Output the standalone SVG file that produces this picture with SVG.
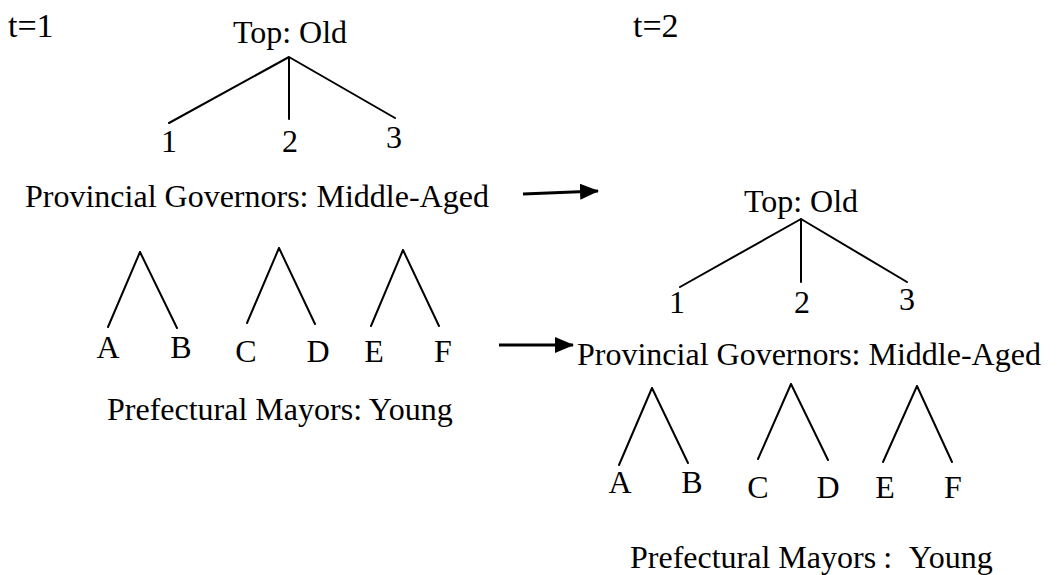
<svg xmlns="http://www.w3.org/2000/svg" width="1058" height="575" viewBox="0 0 1058 575">
<style>
text{font-family:"Liberation Serif","Times New Roman",serif;font-size:32px;fill:#000}
.t{font-size:34px}
.m{text-anchor:middle}
.e{stroke:#000;stroke-width:2;fill:none;stroke-linecap:round}
.a{stroke:#000;stroke-width:3;fill:none}
</style>
<defs>
<marker id="ah" markerUnits="userSpaceOnUse" markerWidth="20" markerHeight="18" refX="18" refY="8" orient="auto">
<path d="M0,0 L19,8 L0,16 Z" fill="#000"/>
</marker>
</defs>
<rect width="1058" height="575" fill="#fff"/>
<g id="label-t1"><text class="t" x="8" y="37">t=1</text></g>
<g id="label-t2"><text class="t" x="633" y="37">t=2</text></g>

<g id="left-top"><text class="m" x="290" y="43">Top: Old</text></g>
<g id="left-1"><text class="m" x="169" y="152">1</text></g>
<g id="left-2"><text class="m" x="290" y="152">2</text></g>
<g id="left-3"><text class="m" x="394" y="148">3</text></g>
<g id="left-governors"><text x="25" y="207">Provincial Governors: Middle-Aged</text></g>
<g id="left-A"><text class="m" x="108" y="358">A</text></g>
<g id="left-B"><text class="m" x="181" y="358">B</text></g>
<g id="left-C"><text class="m" x="246" y="362">C</text></g>
<g id="left-D"><text class="m" x="318" y="362">D</text></g>
<g id="left-E"><text class="m" x="374" y="362">E</text></g>
<g id="left-F"><text class="m" x="443" y="362">F</text></g>
<g id="left-mayors"><text x="107" y="420">Prefectural Mayors: Young</text></g>

<g id="right-top"><text class="m" x="801" y="212">Top: Old</text></g>
<g id="right-1"><text class="m" x="677" y="313">1</text></g>
<g id="right-2"><text class="m" x="802" y="313">2</text></g>
<g id="right-3"><text class="m" x="907" y="310">3</text></g>
<g id="right-governors"><text x="577" y="365">Provincial Governors: Middle-Aged</text></g>
<g id="right-A"><text class="m" x="620" y="493">A</text></g>
<g id="right-B"><text class="m" x="692" y="493">B</text></g>
<g id="right-C"><text class="m" x="758" y="498">C</text></g>
<g id="right-D"><text class="m" x="828" y="498">D</text></g>
<g id="right-E"><text class="m" x="885" y="498">E</text></g>
<g id="right-F"><text class="m" x="953" y="498">F</text></g>
<g id="right-mayors"><text x="630" y="568">Prefectural Mayors<tspan dx="7">:</tspan><tspan dx="10"> Young</tspan></text></g>

<g id="connectors">
<path class="e" d="M289,57 L169,123 M289,57 L289,119 M289,57 L395,118"/>
<path class="e" d="M140,252 L108,327 M140,252 L177,328"/>
<path class="e" d="M279,248 L247,323 M279,248 L315,324"/>
<path class="e" d="M403,250 L371,326 M403,250 L439,326"/>
<path class="e" d="M801,219 L680,287 M801,219 L801,282 M801,219 L907,282"/>
<path class="e" d="M652,388 L619,465 M652,388 L688,463"/>
<path class="e" d="M791,384 L758,459 M791,384 L828,460"/>
<path class="e" d="M917,386 L883,462 M917,386 L952,462"/>
<line class="a" x1="523" y1="194" x2="598" y2="191" marker-end="url(#ah)"/>
<line class="a" x1="499" y1="345" x2="573" y2="345" marker-end="url(#ah)"/>
</g>
</svg>
